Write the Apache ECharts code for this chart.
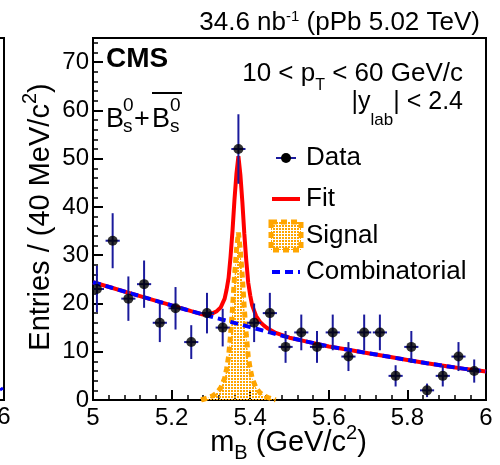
<!DOCTYPE html>
<html>
<head>
<meta charset="utf-8">
<script src="https://cdn.jsdelivr.net/npm/echarts@6/dist/echarts.min.js"></script>
<style>
html,body{margin:0;padding:0;background:#fff;}
#chart{width:500px;height:465px;}
</style>
</head>
<body>
<div id="chart"></div>
<script>
// ---- data ----
const binCenters = [5.01,5.05,5.09,5.13,5.17,5.21,5.25,5.29,5.33,5.37,5.41,5.45,5.49,5.53,5.57,5.61,5.65,5.69,5.73,5.77,5.81,5.85,5.89,5.93,5.97];
const entries    = [23,33,21,24,16,19,12,18,15,52,16,18,11,14,11,14,9,14,14,5,11,2,5,9,6];
const entryErrors = [4.8,5.7,4.6,4.9,4.0,4.4,3.5,4.2,3.9,7.2,4.0,4.2,3.3,3.7,3.3,3.7,3.0,3.7,3.7,2.2,3.3,1.4,2.2,3.0,2.4];

const combX = [5.00,5.05,5.10,5.15,5.20,5.25,5.30,5.35,5.40,5.45,5.50,5.55,5.60,5.65,5.70,5.75,5.80,5.85,5.90,5.95,6.00];
const combY = [24.4,23.2,22.0,20.8,19.6,18.4,17.3,16.2,15.1,14.0,12.9,12.0,11.1,10.4,9.7,9.0,8.3,7.6,7.0,6.4,5.9];

const fitX = [5.00,5.05,5.10,5.15,5.20,5.25,5.28,5.295,5.305,5.315,5.325,5.335,5.34,5.345,5.35,5.355,5.36,5.365,5.37,5.375,5.38,5.385,5.39,5.395,5.40,5.405,5.415,5.425,5.435,5.445,5.465,5.50,5.55,5.60,5.65,5.70,5.75,5.80,5.85,5.90,5.95,6.00];
const fitY = [24.4,23.2,22.0,20.8,19.6,18.4,17.7,17.9,18.0,18.4,19.2,21.0,22.9,25.3,29.7,35.1,41.5,46.9,50.5,46.7,41.1,34.5,28.9,24.3,21.7,19.6,17.4,16.2,15.4,14.8,13.9,12.9,12.0,11.1,10.4,9.7,9.0,8.3,7.6,7.0,6.4,5.9];

const sigX = [5.275,5.295,5.305,5.315,5.325,5.335,5.34,5.345,5.35,5.355,5.36,5.365,5.37,5.375,5.38,5.385,5.39,5.395,5.40,5.405,5.415,5.425,5.435,5.445,5.465];
const sigY = [0,0.5,0.9,1.5,2.5,4.5,6.5,9,13.5,19,25.5,31,34.7,31,25.5,19,13.5,9,6.5,4.5,2.5,1.5,0.9,0.5,0];

const xTicks = {min:5, max:6, step:0.2};
const yTicks = {min:0, max:75, step:10};

// ---- styling ----
const FONT = "'Liberation Sans', Arial, Helvetica, sans-serif";
const NAVY = '#1a1a9c';
const ORANGE = '#ffa500';

const pat = document.createElement('canvas');
pat.width = 3; pat.height = 3;
const pctx = pat.getContext('2d');
pctx.fillStyle = ORANGE;
pctx.fillRect(0,0,2,2);
const orangePattern = {image: pat, repeat: 'repeat'};

const zip = (xs, ys) => xs.map((x,i)=>[x, ys[i]]);
const dataPts = binCenters.map((x,i)=>[x, entries[i], entryErrors[i]]);

// text with sub/superscripts laid out as pieces sharing a baseline
const mctx = document.createElement('canvas').getContext('2d');
function fontOf(p){ return (p.bold ? 'bold ' : '') + p.size + 'px ' + FONT; }
function textRun(pieces, opt){
  const widths = pieces.map(p => { mctx.font = fontOf(p); return mctx.measureText(p.text).width; });
  const total = widths.reduce((a,b)=>a+b,0);
  let s = opt.align === 'right' ? -total : (opt.align === 'center' ? -total/2 : 0);
  const out = [];
  pieces.forEach((p,i) => {
    const off = (p.shift || 0) - 0.31 * p.size;
    let el;
    if (opt.rotate) {
      el = {type:'text', x: opt.x + off, y: opt.y - s, rotation: Math.PI/2,
            style:{text:p.text, font:fontOf(p), fill:'#000', align:'left', verticalAlign:'middle'}};
    } else {
      el = {type:'text', x: opt.x + s, y: opt.y + off,
            style:{text:p.text, font:fontOf(p), fill:'#000', align:'left', verticalAlign:'middle'}};
    }
    out.push(el);
    s += widths[i];
  });
  return out;
}

const chart = echarts.init(document.getElementById('chart'), null, {renderer:'canvas'});

const graphics = [].concat(
  [
    {type:'polyline', shape:{points:[[0,38],[4,38],[4,400],[0,400]]}, style:{stroke:'#000', lineWidth:2, fill:null}},
    {type:'line', shape:{x1:0,y1:390,x2:3,y2:388}, style:{stroke:'#0000ff', lineWidth:3}},
    {type:'text', x:4, y:405, style:{text:'6', font:"24px "+FONT, fill:'#000', align:'center', verticalAlign:'top'}}
  ],
  textRun([{text:'34.6 nb', size:26},{text:'-1', size:15, shift:-9},{text:' (pPb 5.02 TeV)', size:26}], {x:480, y:31, align:'right'}),
  textRun([{text:'CMS', size:28, bold:true}], {x:106, y:68, align:'left'}),
  textRun([{text:'B', size:27}], {x:106, y:128, align:'left'}),
  textRun([{text:'0', size:19}], {x:123, y:112, align:'left'}),
  textRun([{text:'s', size:19}], {x:123, y:133, align:'left'}),
  textRun([{text:'+', size:27}], {x:134, y:128, align:'left'}),
  textRun([{text:'B', size:27}], {x:152, y:128, align:'left'}),
  textRun([{text:'0', size:19}], {x:170, y:112, align:'left'}),
  textRun([{text:'s', size:19}], {x:170, y:133, align:'left'}),
  [{type:'line', shape:{x1:152,y1:93,x2:182,y2:93}, style:{stroke:'#000', lineWidth:2}}],
  textRun([{text:'10 < p', size:26},{text:'T', size:16, shift:9},{text:' < 60 GeV/c', size:26}], {x:463, y:82, align:'right'}),
  textRun([{text:'|y', size:25},{text:'lab', size:17, shift:16},{text:'| < 2.4', size:25}], {x:463, y:110, align:'right'}),
  textRun([{text:'m', size:29},{text:'B', size:20, shift:8},{text:' (GeV/c', size:29},{text:'2', size:20, shift:-12},{text:')', size:29}], {x:288.5, y:452, align:'center'}),
  textRun([{text:'Entries / (40 MeV/c', size:29},{text:'2', size:20, shift:-13},{text:')', size:29}], {x:50, y:217, align:'center', rotate:true}),
  [
    {type:'line', shape:{x1:276,y1:158,x2:296,y2:158}, style:{stroke:NAVY, lineWidth:2}},
    {type:'circle', shape:{cx:286,cy:158,r:5}, style:{fill:'#000'}},
    {type:'text', x:306, y:158, style:{text:'Data', font:"26px "+FONT, fill:'#000', align:'left', verticalAlign:'middle'}},
    {type:'line', shape:{x1:272,y1:199,x2:300,y2:199}, style:{stroke:'#ff0000', lineWidth:4}},
    {type:'text', x:306, y:199, style:{text:'Fit', font:"26px "+FONT, fill:'#000', align:'left', verticalAlign:'middle'}},
    {type:'rect', shape:{x:271,y:222,width:30,height:28}, style:{fill:orangePattern, stroke:ORANGE, lineWidth:5, lineDash:[6,4]}},
    {type:'text', x:306, y:236, style:{text:'Signal', font:"26px "+FONT, fill:'#000', align:'left', verticalAlign:'middle'}},
    {type:'line', shape:{x1:272,y1:272,x2:300,y2:272}, style:{stroke:'#0000ff', lineWidth:4, lineDash:[8,5]}},
    {type:'text', x:306, y:272, style:{text:'Combinatorial', font:"26px "+FONT, fill:'#000', align:'left', verticalAlign:'middle'}}
  ]
);

const option = {
  animation:false,
  backgroundColor:'#fff',
  grid:{left:93, top:38, width:393, height:362, show:true, borderColor:'#000', borderWidth:2, backgroundColor:'transparent'},
  xAxis:{
    type:'value', min:xTicks.min, max:xTicks.max, interval:xTicks.step,
    axisLine:{show:true, onZero:false, lineStyle:{color:'#000', width:2}},
    axisTick:{show:true, inside:true, length:10, lineStyle:{color:'#000', width:2}},
    minorTick:{show:true, splitNumber:5, length:5, lineStyle:{color:'#000', width:1.5}},
    splitLine:{show:false},
    axisLabel:{color:'#000', fontSize:24, fontFamily:FONT, margin:6}
  },
  yAxis:[{
    type:'value', min:yTicks.min, max:yTicks.max, interval:yTicks.step,
    axisLine:{show:true, onZero:false, lineStyle:{color:'#000', width:2}},
    axisTick:{show:true, inside:true, length:10, lineStyle:{color:'#000', width:2}},
    minorTick:{show:false},
    splitLine:{show:false},
    axisLabel:{color:'#000', fontSize:24, fontFamily:FONT, margin:4, showMaxLabel:false}
  },{
    type:'value', min:yTicks.min, max:yTicks.max, interval:2, position:'left',
    axisLine:{show:false}, axisLabel:{show:false}, splitLine:{show:false},
    axisTick:{show:true, inside:true, length:5, lineStyle:{color:'#000', width:1.5}}
  }],
  series:[
    {
      name:'Signal', type:'line', data:zip(sigX, sigY), showSymbol:false, z:1,
      lineStyle:{color:ORANGE, width:5, type:[6,4], cap:'butt'},
      areaStyle:{color:orangePattern, opacity:1}
    },
    {
      name:'Fit', type:'line', data:zip(fitX, fitY), showSymbol:false, z:2,
      lineStyle:{color:'#ff0000', width:4}
    },
    {
      name:'Combinatorial', type:'line', data:zip(combX, combY), showSymbol:false, z:3,
      lineStyle:{color:'#0000ff', width:4, type:[8,5], cap:'butt'}
    },
    {
      name:'DataErr', type:'custom', data:dataPts, z:4,
      renderItem:function(params, api){
        const x = api.value(0), y = api.value(1), e = api.value(2);
        const cs = params.coordSys;
        const p = api.coord([x,y]);
        const t = api.coord([x,y+e]);
        const b = api.coord([x,Math.max(0,y-e)]);
        let l = api.coord([x-0.018,y])[0];
        let r = api.coord([x+0.018,y])[0];
        l = Math.max(l, cs.x); r = Math.min(r, cs.x+cs.width);
        return {type:'group', children:[
          {type:'line', shape:{x1:p[0],y1:t[1],x2:p[0],y2:b[1]}, style:{stroke:NAVY, lineWidth:2}},
          {type:'line', shape:{x1:l,y1:p[1],x2:r,y2:p[1]}, style:{stroke:NAVY, lineWidth:2}}
        ]};
      }
    },
    {
      name:'Data', type:'scatter', data:zip(binCenters, entries), z:5,
      symbol:'circle', symbolSize:10, itemStyle:{color:'#000'}
    }
  ],
  graphic: graphics
};
chart.setOption(option);
</script>
</body>
</html>
